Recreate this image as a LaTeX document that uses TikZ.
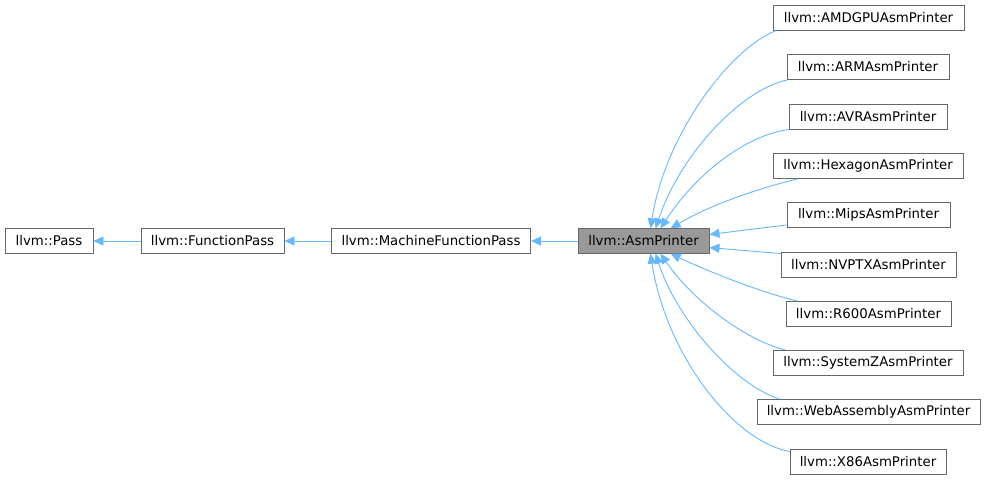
\documentclass[tikz,border=0pt]{standalone}
\usepackage{fontspec}
\setmainfont{DejaVu Sans}
\usetikzlibrary{arrows.meta}
\definecolor{edgeblue}{HTML}{63B8FF}
\definecolor{boxgray}{HTML}{666666}
\definecolor{fillgray}{HTML}{999999}
\tikzset{
  cls/.style={draw=boxgray, line width=0.9pt, fill=white, inner sep=0pt, minimum height=25pt,
    font=\fontsize{13.3}{16}\selectfont, text=black, anchor=center},
  cur/.style={cls, fill=fillgray},
  inh/.style={draw=edgeblue, line width=0.9pt, -{Triangle[length=10pt,width=9pt,fill=edgeblue]}}
}
\begin{document}
\begin{tikzpicture}[x=1pt,y=-1pt]
\useasboundingbox (0,0) rectangle (985,480);
% left chain
\node[cls, minimum width=88pt, minimum height=24.5pt] (pass) at (49,241) {llvm::Pass};
\node[cls, minimum width=143pt, minimum height=24.5pt] (fp) at (212.5,241) {llvm::FunctionPass};
\node[cls, minimum width=199pt, minimum height=24.5pt] (mfp) at (431,241) {llvm::MachineFunctionPass};
\node[cur, minimum width=131pt, minimum height=24.5pt] (asm) at (643.5,241) {llvm::AsmPrinter};
% right children
\node[cls, minimum width=191pt] (amd) at (868.5,17.5) {llvm::AMDGPUAsmPrinter};
\node[cls, minimum width=162pt] (arm) at (868,67) {llvm::ARMAsmPrinter};
\node[cls, minimum width=158pt] (avr) at (868,116.5) {llvm::AVRAsmPrinter};
\node[cls, minimum width=190pt] (hex) at (868,166) {llvm::HexagonAsmPrinter};
\node[cls, minimum width=163pt] (mips) at (868.5,215) {llvm::MipsAsmPrinter};
\node[cls, minimum width=175pt] (nvptx) at (868.5,264.5) {llvm::NVPTXAsmPrinter};
\node[cls, minimum width=165pt] (r600) at (868.5,314) {llvm::R600AsmPrinter};
\node[cls, minimum width=190pt] (sysz) at (868,363) {llvm::SystemZAsmPrinter};
\node[cls, minimum width=223pt] (wasm) at (868.5,412) {llvm::WebAssemblyAsmPrinter};
\node[cls, minimum width=156pt] (x86) at (868,461.5) {llvm::X86AsmPrinter};
% chain edges
\draw[inh] (fp.west) -- (pass.east);
\draw[inh] (mfp.west) -- (fp.east);
\draw[inh] (asm.west) -- (mfp.east);
% child edges
\draw[inh] ([xshift=4pt]amd.south west) .. controls (730,48) and (665,135) .. ([xshift=73pt]asm.north west);
\draw[inh] ([xshift=1pt]arm.south west) .. controls (745,88) and (682,150) .. ([xshift=78pt]asm.north west);
\draw[inh] ([xshift=1pt]avr.south west) .. controls (745,135) and (695,175) .. ([xshift=83pt]asm.north west);
\draw[inh] ([xshift=25pt]hex.south west) .. controls (760,188) and (712,204) .. ([xshift=93pt]asm.north west);
\draw[inh] ([yshift=3pt]mips.south west) -- ([yshift=6.5pt]asm.east);
\draw[inh] ([yshift=-2pt]nvptx.north west) -- ([yshift=-6.5pt]asm.east);
\draw[inh] ([xshift=12pt]r600.north west) .. controls (760,292) and (712,273) .. ([xshift=93pt]asm.south west);
\draw[inh] ([xshift=13pt]sysz.north west) .. controls (745,340) and (692,300) .. ([xshift=83pt]asm.south west);
\draw[inh] ([xshift=23pt]wasm.north west) .. controls (735,385) and (677,320) .. ([xshift=78pt]asm.south west);
\draw[inh] ([yshift=-3pt]x86.north west) .. controls (730,440) and (665,350) .. ([xshift=73pt]asm.south west);
\end{tikzpicture}
\end{document}
